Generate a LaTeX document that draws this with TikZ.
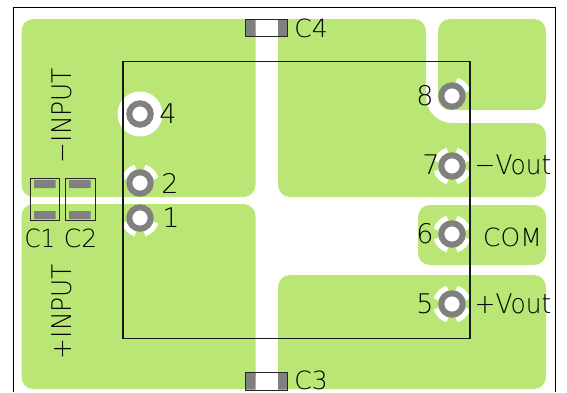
\documentclass[tikz,border=0pt]{standalone}
\usepackage{fontspec}
\setmainfont{DejaVu Sans}[UprightFont=* ExtraLight]
\definecolor{pour}{HTML}{B9E675}
\definecolor{padgray}{HTML}{808080}
\tikzset{
  copper/.style={fill=pour,rounded corners=12pt},
  relief/.style={draw=white,line width=5pt},
  ring/.style={circle,draw=padgray,fill=white,line width=6pt,minimum size=21.4pt,inner sep=0pt},
  smd/.style={fill=padgray},
  capbox/.style={draw=black!85,line width=.9pt},
  lbl/.style={inner sep=0pt,font=\fontsize{25}{25}\selectfont},
  bigl/.style={inner sep=0pt,font=\fontsize{27}{27}\selectfont}
}
\begin{document}
\begin{tikzpicture}
  [x=1pt,y=-1pt]
  \useasboundingbox (0,0) rectangle (567,392);
  \draw[line width=1.3pt] (13.5,392) -- (13.5,7.5) -- (555.5,7.5) -- (555.5,392);
  % copper areas
  \fill[copper] (21.5,19) rectangle (255.5,197);
  \fill[copper] (21.5,204) rectangle (255.5,389);
  \fill[copper] (278,19) -- (426,19) -- (426,123) -- (546,123) -- (546,197) -- (278,197) -- cycle;
  \fill[pour] (426,97) .. controls (426,111.4) and (437.6,123) .. (452,123) -- (452,130) -- (420,130) -- (420,97) -- cycle;
  \fill[copper] (438,19) rectangle (546,110);
  \fill[copper] (418,205) rectangle (546,265);
  \fill[copper] (278,275) rectangle (546,389);
  % thermal reliefs
  \fill[white] (140,114) circle (22.5);
  \foreach \cx/\cy/\from in {452/166/16,452/166/106,452/166/196,452/166/286,
      452/234/16,452/234/106,452/234/196,452/234/286,
      452/304/16,452/304/106,452/304/196,452/304/286,
      140/183/16,140/183/106,140/218/196,140/218/286,452/96/16}
    \draw[relief] (\cx,\cy) ++(-\from:16.5) arc[start angle=-\from,end angle=-\from-58,radius=16.5];
  % module outline
  \draw[line width=1.2pt,black!90] (123,61.5) rectangle (470,338.5);
  % pins
  \node (p1)[ring] at (140,218) {};
  \node (p2)[ring] at (140,183) {};
  \node (p4)[ring] at (140,114) {};
  \node (p5)[ring] at (452,304) {};
  \node (p6)[ring] at (452,234) {};
  \node (p7)[ring] at (452,166) {};
  \node (p8)[ring] at (452,96) {};
  % capacitors
  \fill[smd] (34,180) rectangle (55.5,188) (34,211) rectangle (55.5,219);
  \fill[smd] (69,180) rectangle (90.5,188) (69,211) rectangle (90.5,219);
  \fill[smd] (246,19.5) rectangle (255.5,36) (278,19.5) rectangle (287,36);
  \fill[smd] (246,373) rectangle (255.5,389.5) (278,373) rectangle (287,389.5);
  \draw[capbox] (30,178.7) rectangle (59.7,220.3);
  \draw[capbox] (65,178.7) rectangle (95,220.3);
  \draw[capbox] (245.5,19) rectangle (287.5,36.3);
  \draw[capbox] (245.5,372.7) rectangle (287.5,390);
  % labels
  \node (l1)[bigl] at (171,218) {1};
  \node (l2)[bigl] at (170,183) {2};
  \node (l4)[bigl] at (168,114) {4};
  \node (l5)[bigl] at (425,304) {5};
  \node (l6)[bigl] at (425,234) {6};
  \node (l7)[bigl] at (431,165) {7};
  \node (l8)[bigl] at (425,96) {8};
  \node (c1)[lbl] at (40,238) {\scalebox{.92}[1]{C1}};
  \node (c2)[lbl] at (80.5,238) {C2};
  \node (c3)[lbl] at (311,380) {C3};
  \node (c4)[lbl] at (311,28) {C4};
  \node (com)[lbl] at (512.5,237) {COM};
  \node (vm)[bigl] at (513,165) {\scalebox{.92}[1]{−Vout}};
  \node (vp)[bigl] at (513,304) {\scalebox{.92}[1]{+Vout}};
  \node (im)[bigl,rotate=90] at (62,115.5) {\scalebox{.92}[1]{−INPUT}};
  \node (ip)[bigl,rotate=90] at (62,311.5) {\scalebox{.92}[1]{+INPUT}};
\end{tikzpicture}
\end{document}
